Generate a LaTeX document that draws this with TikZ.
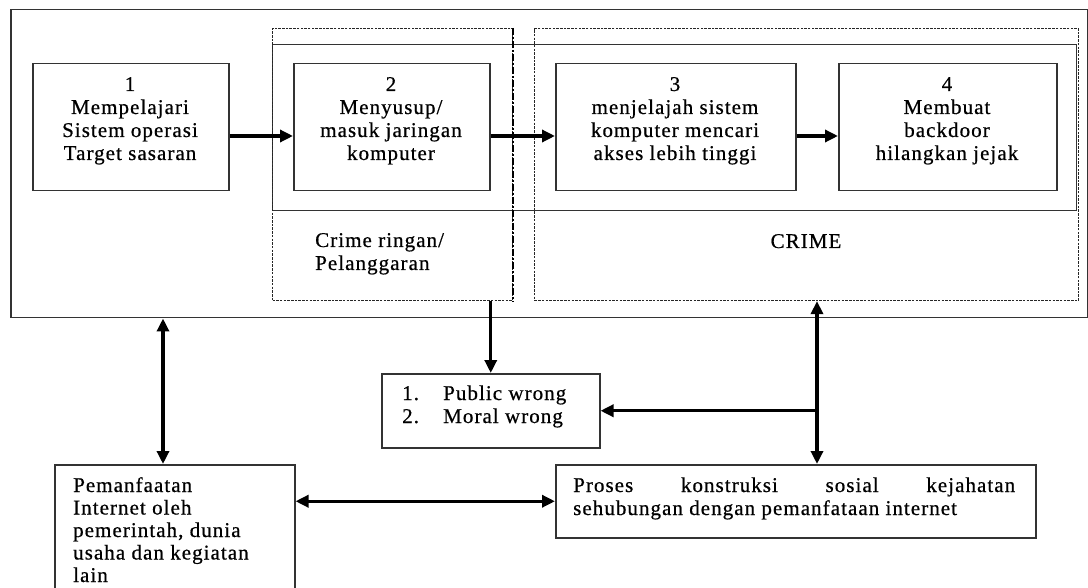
\documentclass[tikz,border=0pt]{standalone}
\usepackage{fontspec}
\setmainfont{Liberation Serif}[LetterSpace=5, FakeBold=0.6]
\usetikzlibrary{arrows.meta}
\begin{document}
\begin{tikzpicture}[x=1pt,y=-1pt,
  box/.style={draw=black!80, line width=1.5pt, rectangle, inner sep=0pt, anchor=north west},
  dbox/.style={draw=black!85, line width=1.1pt, dash pattern=on 2.5pt off 1.2pt, rectangle, inner sep=0pt, anchor=north west},
  thickdash/.style={draw=black, line width=2.6pt, dash pattern=on 7pt off 2pt on 2pt off 2pt},
  txt/.style={font=\fontsize{21}{23}\selectfont, inner sep=0pt, text=black},
  arr/.style={line width=3.4pt, -{Triangle[length=13pt,width=12pt]}},
  darr/.style={line width=3.4pt, {Triangle[length=13pt,width=12pt]}-{Triangle[length=13pt,width=12pt]}},
]
\useasboundingbox (0,0) rectangle (1088,588);
\fill[white] (0,0) rectangle (1088,588);

% frames
\node[box, minimum width=1077pt, minimum height=308pt] (outer) at (10,9) {};
\node[box, line width=1.2pt, minimum width=804pt, minimum height=166pt] (band) at (272,44) {};
\node[dbox, minimum width=240pt, minimum height=272pt] (crA) at (272,28) {};
\node[dbox, minimum width=544pt, minimum height=272pt] (crB) at (534,28) {};
\draw[thickdash] (crA.north east) -- (crA.south east);

% step boxes
\node[box, minimum width=196pt, minimum height=127pt] (b1) at (32,63) {};
\node[box, minimum width=196pt, minimum height=127pt] (b2) at (293,63) {};
\node[box, minimum width=240pt, minimum height=127pt] (b3) at (555,63) {};
\node[box, minimum width=218pt, minimum height=127pt] (b4) at (838,63) {};

% lower boxes
\node[box, minimum width=218pt, minimum height=74pt] (pub) at (381,373) {};
\node[box, minimum width=240pt, minimum height=146pt] (pem) at (54,464) {};
\node[box, minimum width=480pt, minimum height=73pt] (pros) at (555,464) {};

% texts
\node[txt, anchor=base] (t1) at (130,91) {\begin{tabular}[t]{@{}c@{}}1\\Mempelajari\\Sistem operasi\\Target sasaran\end{tabular}};
\node[txt, anchor=base] (t2) at (391,91) {\begin{tabular}[t]{@{}c@{}}2\\Menyusup/\\masuk jaringan\\komputer\end{tabular}};
\node[txt, anchor=base] (t3) at (675,91) {\begin{tabular}[t]{@{}c@{}}3\\menjelajah sistem\\komputer mencari\\akses lebih tinggi\end{tabular}};
\node[txt, anchor=base] (t4) at (947,91) {\begin{tabular}[t]{@{}c@{}}4\\Membuat\\backdoor\\hilangkan jejak\end{tabular}};
\node[txt, anchor=base west] (tA) at (315,247) {\begin{tabular}[t]{@{}l@{}}Crime ringan/\\Pelanggaran\end{tabular}};
\node[txt, anchor=base] (tB) at (806,248) {CRIME};
\node[txt, anchor=base west] (tpub) at (402,400) {\begin{tabular}[t]{@{}p{41pt}@{}l@{}}1. & Public wrong\\2. & Moral wrong\end{tabular}};
\node[txt, font=\fontsize{21}{22.5}\selectfont, anchor=base west] (tpem) at (73,492) {\begin{tabular}[t]{@{}l@{}}Pemanfaatan\\Internet oleh\\pemerintah, dunia\\usaha dan kegiatan\\lain\end{tabular}};
\node[txt, anchor=base west] (tpros) at (573,492) {\begin{tabular}[t]{@{}l@{}}\makebox[442pt][s]{Proses konstruksi sosial kejahatan}\\sehubungan dengan pemanfataan internet\end{tabular}};

% connectors
\coordinate (ay) at (0,136);
\draw[arr] (b1.east |- ay) -- (b2.west |- ay);
\draw[arr] (b2.east |- ay) -- (b3.west |- ay);
\draw[arr] (b3.east |- ay) -- (b4.west |- ay);
\draw[arr] (crA.south -| pub.north) -- (pub.north);
\coordinate (vx) at (817,0);
\draw[darr] (crB.south -| vx) -- (pros.north -| vx);
\draw[arr] (pub.east -| vx) -- (pub.east);
\coordinate (lx) at (163,0);
\draw[darr] (outer.south -| lx) -- (pem.north -| lx);
\draw[darr] (pem.east |- pros.west) -- (pros.west);
\end{tikzpicture}
\end{document}
